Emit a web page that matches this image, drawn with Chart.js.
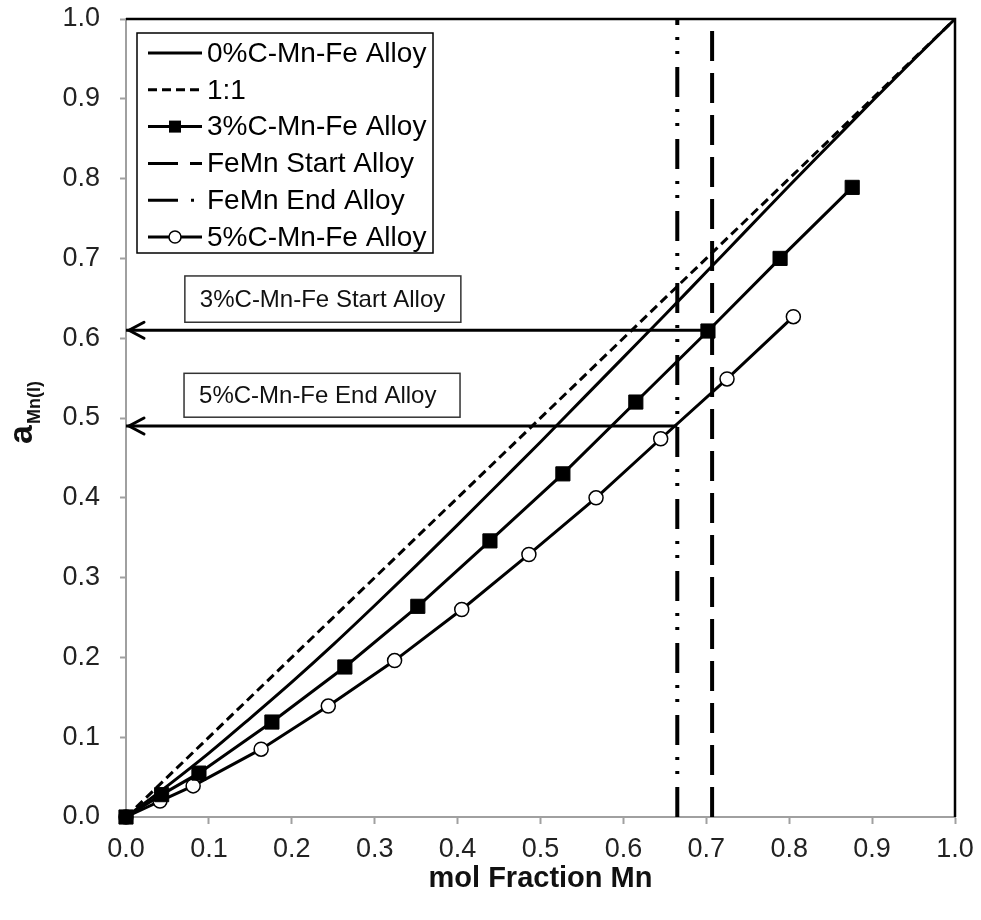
<!DOCTYPE html>
<html>
<head>
<meta charset="utf-8">
<title>Activité du Mn</title>
<script src="https://cdn.jsdelivr.net/npm/chart.js@4.4.1/dist/chart.umd.min.js"></script>
<style>
  html, body { margin: 0; padding: 0; background: #fff; }
  #wrap { width: 981px; height: 920px; }
</style>
</head>
<body>
<div id="wrap"><canvas id="chartActivite" width="981" height="920"></canvas></div>
<script>
const FONT = '"Liberation Sans", Arial, Helvetica, sans-serif';

// ticks shared by both axes
const axisTicks = [0, 0.1, 0.2, 0.3, 0.4, 0.5, 0.6, 0.7, 0.8, 0.9, 1.0];

const seriesNames = [
  "0%C-Mn-Fe Alloy",
  "1:1",
  "3%C-Mn-Fe Alloy",
  "FeMn Start Alloy",
  "FeMn End Alloy",
  "5%C-Mn-Fe Alloy",
];

// 0%C curve
const xAlloy0 = [0, 0.05, 0.1, 0.15, 0.2, 0.25, 0.3, 0.35, 0.4, 0.45, 0.5, 0.55, 0.6, 0.65, 0.7, 0.75, 0.8, 0.85, 0.9, 0.95, 1.0];
const aAlloy0 = [0, 0.039, 0.080, 0.124, 0.169, 0.216, 0.265, 0.315, 0.366, 0.418, 0.470, 0.523, 0.576, 0.629, 0.683, 0.737, 0.791, 0.844, 0.897, 0.949, 1.0];

// ideal line
const xIdeal = [0, 1];
const aIdeal = [0, 1];

// 3%C points
const xAlloy3 = [0, 0.043, 0.088, 0.176, 0.264, 0.352, 0.439, 0.527, 0.615, 0.702, 0.789, 0.876];
const aAlloy3 = [0, 0.028, 0.055, 0.119, 0.188, 0.264, 0.346, 0.430, 0.520, 0.609, 0.700, 0.789];

// 5%C points
const xAlloy5 = [0, 0.041, 0.081, 0.163, 0.244, 0.324, 0.405, 0.486, 0.567, 0.645, 0.725, 0.805];
const aAlloy5 = [0, 0.020, 0.039, 0.085, 0.139, 0.196, 0.260, 0.329, 0.400, 0.474, 0.549, 0.627];

// FeMn start / end compositions and read-off activities
const feMnStartX = 0.707;
const feMnEndX = 0.665;
const aStart3 = 0.61;
const aEnd5 = 0.49;

const noteLabels = ["3%C-Mn-Fe Start Alloy", "5%C-Mn-Fe End Alloy"];

function toPoints(xs, ys) {
  return xs.map((x, i) => ({ x, y: ys[i] }));
}

function ligne(data, extra) {
  return Object.assign(
    {
      data,
      showLine: true,
      borderColor: "#000",
      backgroundColor: "#000",
      borderWidth: 3,
      pointRadius: 0,
      pointHoverRadius: 0,
      clip: false,
    },
    extra
  );
}

const datasets = [
  ligne(toPoints(xAlloy0, aAlloy0), { cubicInterpolationMode: "monotone" }),
  ligne(toPoints(xIdeal, aIdeal), { borderDash: [9, 5] }),
  ligne(toPoints(xAlloy3, aAlloy3), {
    pointStyle: "rect",
    pointRadius: 10,
    pointBackgroundColor: "#000",
    pointBorderColor: "#000",
    pointBorderWidth: 1,
  }),
  ligne([{ x: feMnStartX, y: 0 }, { x: feMnStartX, y: 1 }], { borderWidth: 4, borderDash: [30, 12] }),
  ligne([{ x: feMnEndX, y: 0 }, { x: feMnEndX, y: 1 }], { borderWidth: 4, borderDash: [30, 13, 3, 11, 3, 12] }),
  ligne(toPoints(xAlloy5, aAlloy5), {
    pointStyle: "circle",
    pointRadius: 7,
    pointBackgroundColor: "#fff",
    pointBorderColor: "#000",
    pointBorderWidth: 1.5,
  }),
  // arrows towards the y axis
  ligne([{ x: feMnStartX, y: aStart3 }, { x: 0, y: aStart3 }], { borderWidth: 3 }),
  ligne([{ x: feMnEndX, y: aEnd5 }, { x: 0, y: aEnd5 }], { borderWidth: 3 }),
];

// frame, arrow heads, text boxes, legend and axis titles
const habillage = {
  id: "habillage",
  beforeDatasetsDraw(chart) {
    const { ctx, chartArea: a } = chart;
    ctx.save();
    ctx.strokeStyle = "#000";
    ctx.lineWidth = 2.5;
    ctx.beginPath();
    ctx.moveTo(a.left, a.top);
    ctx.lineTo(a.right, a.top);
    ctx.lineTo(a.right, a.bottom);
    ctx.stroke();
    ctx.restore();
  },
  afterDatasetsDraw(chart) {
    const { ctx, chartArea: a, scales } = chart;
    const sx = scales.x;
    const sy = scales.y;
    ctx.save();

    // arrow heads
    ctx.strokeStyle = "#000";
    ctx.lineWidth = 3;
    ctx.lineCap = "round";
    [aStart3, aEnd5].forEach((v) => {
      const tx = sx.getPixelForValue(0) + 3;
      const ty = sy.getPixelForValue(v);
      ctx.beginPath();
      ctx.moveTo(tx + 15, ty - 8);
      ctx.lineTo(tx, ty);
      ctx.lineTo(tx + 15, ty + 8);
      ctx.stroke();
    });

    // text boxes
    const boites = [
      { x: 0.071, haut: 0.678, bas: 0.620 },
      { x: 0.070, haut: 0.556, bas: 0.501 },
    ];
    ctx.lineCap = "butt";
    ctx.font = `24px ${FONT}`;
    ctx.textBaseline = "middle";
    ctx.textAlign = "left";
    boites.forEach((b, i) => {
      const x0 = sx.getPixelForValue(b.x);
      const y0 = sy.getPixelForValue(b.haut);
      const y1 = sy.getPixelForValue(b.bas);
      ctx.fillStyle = "#fff";
      ctx.fillRect(x0, y0, 276, y1 - y0);
      ctx.strokeStyle = "#333";
      ctx.lineWidth = 1.5;
      ctx.strokeRect(x0, y0, 276, y1 - y0);
      ctx.fillStyle = "#111";
      ctx.fillText(noteLabels[i], x0 + 15, (y0 + y1) / 2 + 1);
    });

    // legend
    const lx = a.left + 11;
    const ly = a.top + 14;
    ctx.fillStyle = "#fff";
    ctx.fillRect(lx, ly, 296, 220);
    ctx.strokeStyle = "#000";
    ctx.lineWidth = 1.5;
    ctx.strokeRect(lx, ly, 296, 220);
    ctx.font = `28px ${FONT}`;
    seriesNames.forEach((nom, i) => {
      const ds = chart.data.datasets[i];
      const y = ly + 20 + i * 36.8;
      ctx.save();
      ctx.beginPath();
      ctx.rect(lx + 11, y - 10, 54, 20);
      ctx.clip();
      ctx.setLineDash(ds.borderDash || []);
      ctx.strokeStyle = "#000";
      ctx.lineWidth = Math.min(ds.borderWidth, 3);
      ctx.beginPath();
      ctx.moveTo(lx + 11, y);
      ctx.lineTo(lx + 65, y);
      ctx.stroke();
      ctx.restore();
      const cx = lx + 38;
      if (ds.pointStyle === "rect") {
        ctx.fillStyle = "#000";
        ctx.fillRect(cx - 6, y - 6, 12, 12);
      } else if (ds.pointStyle === "circle") {
        ctx.beginPath();
        ctx.arc(cx, y, 6, 0, Math.PI * 2);
        ctx.fillStyle = "#fff";
        ctx.fill();
        ctx.lineWidth = 1.5;
        ctx.strokeStyle = "#000";
        ctx.stroke();
      }
      ctx.fillStyle = "#000";
      ctx.fillText(nom, lx + 70, y + 1);
    });

    // x axis title
    ctx.fillStyle = "#111";
    ctx.font = `bold 29px ${FONT}`;
    ctx.textAlign = "center";
    ctx.textBaseline = "alphabetic";
    ctx.fillText("mol Fraction Mn", (a.left + a.right) / 2, 887);

    // y axis title a_Mn(l)
    ctx.save();
    ctx.translate(32, 444);
    ctx.rotate(-Math.PI / 2);
    ctx.textAlign = "left";
    ctx.font = `bold 34px ${FONT}`;
    ctx.fillText("a", 0, 0);
    const wa = ctx.measureText("a").width;
    ctx.font = `bold 18px ${FONT}`;
    ctx.fillText("Mn(l)", wa + 1, 8);
    ctx.restore();

    ctx.restore();
  },
};

function optionsAxe(pad, tick, taille) {
  return {
    type: "linear",
    min: 0,
    max: 1,
    afterBuildTicks: (s) => {
      s.ticks = axisTicks.map((v) => ({ value: v }));
    },
    ticks: {
      font: { family: FONT, size: 27 },
      color: "#222",
      padding: pad,
      maxRotation: 0,
      autoSkip: false,
      callback: (v) => Number(v).toFixed(1),
    },
    grid: {
      drawOnChartArea: false,
      drawTicks: true,
      tickLength: tick,
      tickColor: "#a0a0a0",
      tickWidth: 2,
    },
    border: { color: "#a0a0a0", width: 2 },
    afterFit: (s) => {
      // end labels may overhang: let the layout padding decide the plot edges
      s.paddingTop = 0;
      s.paddingBottom = 0;
      s.paddingLeft = 0;
      s.paddingRight = 0;
      taille(s);
    },
  };
}

new Chart(document.getElementById("chartActivite"), {
  type: "scatter",
  data: { datasets },
  options: {
    responsive: false,
    animation: false,
    devicePixelRatio: 1,
    layout: { padding: { top: 19, right: 26, left: 0, bottom: 0 } },
    scales: {
      x: optionsAxe(9, 7, (s) => { s.height = 103; }),
      y: optionsAxe(20, 6, (s) => { s.width = 126; }),
    },
    plugins: {
      legend: { display: false },
      tooltip: { enabled: false },
    },
  },
  plugins: [habillage],
});
</script>
</body>
</html>
